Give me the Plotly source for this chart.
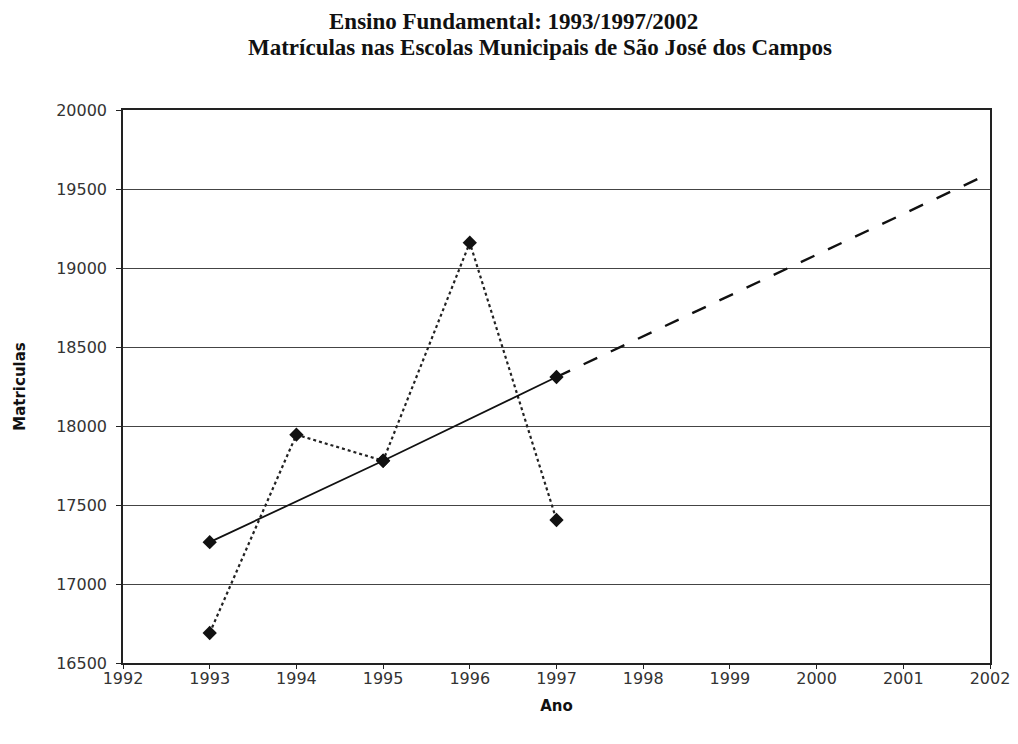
import plotly.graph_objects as go

anos = [1993, 1994, 1995, 1996, 1997]
matriculas = [16690, 17945, 17780, 19160, 17405]
anos_tendencia = [1993, 1995, 1997]
tendencia = [17265, 17780, 18310]
anos_projecao = [1997, 2002]
projecao = [18310, 19600]
x_ticks = list(range(1992, 2003))
y_ticks = list(range(16500, 20001, 500))

fig = go.Figure()
fig.add_trace(go.Scatter(x=anos, y=matriculas, mode="lines+markers",
                         line=dict(color="#222", width=2.2, dash="dot"),
                         marker=dict(symbol="diamond", size=11, color="#111")))
fig.add_trace(go.Scatter(x=anos_tendencia, y=tendencia, mode="lines+markers",
                         line=dict(color="#111", width=1.8),
                         marker=dict(symbol="diamond", size=11, color="#111")))
fig.add_trace(go.Scatter(x=anos_projecao, y=projecao, mode="lines",
                         line=dict(color="#111", width=2.4, dash="longdash")))

fig.update_layout(
    width=1018, height=744,
    margin=dict(l=115, r=36, t=102, b=89),
    paper_bgcolor="white", plot_bgcolor="white",
    showlegend=False,
    font=dict(family="DejaVu Sans, Liberation Sans", size=16, color="#333"),
)
fig.update_xaxes(range=[1992, 2002], tickvals=x_ticks, ticktext=[str(t) for t in x_ticks],
                 showgrid=False, showline=True, linecolor="#222", linewidth=1.5, mirror=True,
                 ticks="outside", ticklen=4, tickcolor="#222", ticklabelstandoff=-4,
                 title=dict(text="<b>Ano</b>", font=dict(size=15, color="#111"), standoff=14), zeroline=False)
fig.update_yaxes(range=[16500, 20000], tickvals=y_ticks, ticktext=[str(t) for t in y_ticks],
                 showgrid=True, gridcolor="#444", gridwidth=1.4,
                 showline=True, linecolor="#222", linewidth=1.5, mirror=True,
                 ticks="outside", ticklen=5, tickcolor="#222", ticklabelstandoff=6,
                 title=dict(text="<b>Matriculas</b>", font=dict(size=15, color="#111"), standoff=27), zeroline=False)

fig.add_annotation(text="<b>Ensino Fundamental: 1993/1997/2002</b>", xref="paper", yref="paper",
                   x=0.45, y=1.0, yshift=89, showarrow=False, xanchor="center", yanchor="middle",
                   font=dict(family="Liberation Serif, Times New Roman", size=23, color="#111"))
fig.add_annotation(text="<b>Matrículas nas Escolas Municipais de São José dos Campos</b>", xref="paper", yref="paper",
                   x=0.481, y=1.0, yshift=63, showarrow=False, xanchor="center", yanchor="middle",
                   font=dict(family="Liberation Serif, Times New Roman", size=23, color="#111"))

fig.write_html("out.html")
